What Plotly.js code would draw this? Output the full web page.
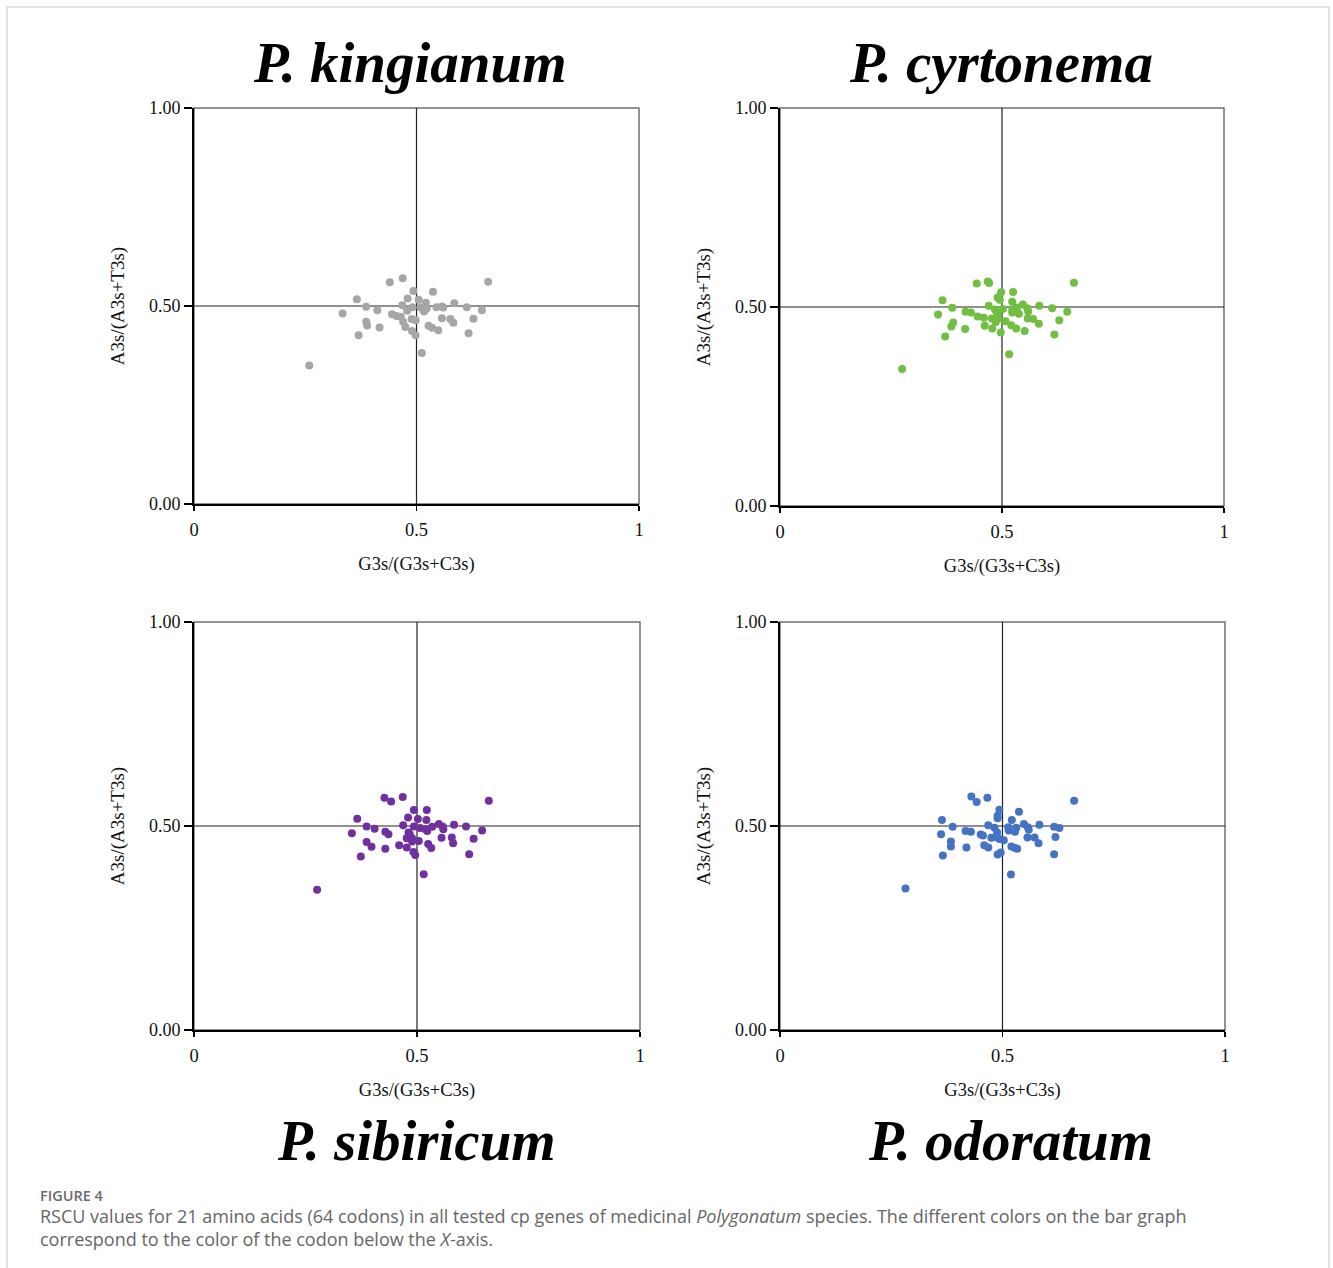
<!DOCTYPE html>
<html>
<head>
<meta charset="utf-8">
<script src="https://cdn.plot.ly/plotly-3.0.1.min.js"></script>
<style>
  html, body { margin: 0; padding: 0; background: #fff; }
  #chart { width: 1333px; height: 1268px; }
</style>
</head>
<body>
<div id="chart"></div>
<script>
// ---- Data: GC3 skew coordinates per species ----
const speciesNames = ["P. kingianum", "P. cyrtonema", "P. sibiricum", "P. odoratum"];

const kingianumX = [0.440,0.469,0.661,0.493,0.537,0.366,0.480,0.505,0.521,0.585,0.387,0.468,0.491,0.509,0.523,0.545,0.557,0.560,0.613,0.412,0.479,0.517,0.647,0.334,0.445,0.455,0.465,0.557,0.576,0.628,0.387,0.470,0.489,0.498,0.583,0.389,0.417,0.475,0.527,0.535,0.549,0.490,0.498,0.370,0.617,0.512,0.259];
const kingianumY = [0.560,0.570,0.561,0.538,0.536,0.517,0.519,0.516,0.508,0.507,0.498,0.502,0.497,0.496,0.494,0.497,0.499,0.496,0.497,0.489,0.488,0.486,0.489,0.481,0.479,0.475,0.473,0.469,0.467,0.468,0.460,0.460,0.467,0.464,0.458,0.451,0.446,0.447,0.450,0.445,0.439,0.437,0.426,0.426,0.431,0.381,0.350];

const cyrtonemaX = [0.443,0.468,0.471,0.662,0.498,0.525,0.490,0.495,0.366,0.523,0.470,0.388,0.484,0.502,0.523,0.534,0.547,0.557,0.584,0.613,0.418,0.430,0.489,0.523,0.538,0.559,0.647,0.356,0.445,0.459,0.477,0.491,0.558,0.570,0.629,0.390,0.486,0.508,0.583,0.386,0.461,0.521,0.532,0.417,0.478,0.551,0.497,0.372,0.618,0.516,0.275];
const cyrtonemaY = [0.559,0.564,0.560,0.561,0.537,0.538,0.524,0.518,0.517,0.513,0.503,0.498,0.494,0.495,0.494,0.499,0.506,0.497,0.503,0.497,0.488,0.486,0.484,0.486,0.483,0.489,0.488,0.481,0.476,0.473,0.471,0.471,0.471,0.470,0.467,0.461,0.462,0.464,0.458,0.451,0.453,0.454,0.446,0.445,0.446,0.440,0.436,0.426,0.431,0.381,0.344];

const sibiricumX = [0.427,0.442,0.468,0.661,0.493,0.522,0.366,0.480,0.502,0.521,0.387,0.405,0.469,0.493,0.507,0.519,0.523,0.534,0.549,0.558,0.559,0.583,0.610,0.646,0.354,0.429,0.436,0.481,0.484,0.477,0.489,0.555,0.578,0.627,0.387,0.489,0.504,0.581,0.398,0.460,0.525,0.532,0.429,0.477,0.492,0.496,0.374,0.617,0.515,0.276];
const sibiricumY = [0.569,0.560,0.571,0.562,0.539,0.539,0.518,0.521,0.517,0.515,0.499,0.493,0.502,0.499,0.495,0.492,0.488,0.498,0.505,0.498,0.492,0.503,0.499,0.489,0.482,0.486,0.480,0.484,0.479,0.470,0.470,0.471,0.472,0.469,0.461,0.462,0.463,0.458,0.449,0.453,0.456,0.446,0.444,0.447,0.436,0.429,0.425,0.431,0.382,0.344];

const odoratumX = [0.430,0.442,0.466,0.661,0.493,0.537,0.489,0.489,0.364,0.521,0.388,0.468,0.482,0.513,0.531,0.548,0.557,0.559,0.583,0.616,0.628,0.417,0.429,0.488,0.514,0.528,0.362,0.451,0.456,0.475,0.486,0.493,0.503,0.556,0.572,0.619,0.384,0.581,0.384,0.419,0.459,0.468,0.520,0.528,0.533,0.366,0.489,0.496,0.616,0.519,0.282];
const odoratumY = [0.572,0.559,0.569,0.562,0.540,0.535,0.525,0.519,0.515,0.515,0.498,0.502,0.496,0.497,0.496,0.505,0.497,0.491,0.503,0.498,0.495,0.488,0.486,0.484,0.489,0.486,0.480,0.479,0.477,0.471,0.473,0.468,0.465,0.472,0.472,0.473,0.462,0.458,0.450,0.447,0.453,0.447,0.450,0.446,0.444,0.428,0.430,0.435,0.431,0.381,0.347];

const seriesX = [kingianumX, cyrtonemaX, sibiricumX, odoratumX];
const seriesY = [kingianumY, cyrtonemaY, sibiricumY, odoratumY];
const seriesColors = ["#a6a6a6", "#70bf41", "#7030a0", "#4472c4"];

const xTickVals = [0, 0.5, 1];
const xTickText = ["0", "0.5", "1"];
const yTickVals = [0, 0.5, 1];
const yTickText = ["0.00", "0.50", "1.00"];
const xTitle = "G3s/(G3s+C3s)";
const yTitle = "A3s/(A3s+T3s)";

// ---- Layout geometry ----
const W = 1333, H = 1268;
const px = v => v / W;
const py = v => 1 - v / H;
const boxes = [
  {x0:194, x1:639, y0:108, y1:504},
  {x0:780, x1:1224, y0:108, y1:506},
  {x0:194, x1:640, y0:622, y1:1030},
  {x0:780, x1:1225, y0:622, y1:1030}
];
const titlePos = [
  {x:410, y:62}, {x:1001, y:62}, {x:416, y:1140}, {x:1010, y:1140}
];

const serif = "Liberation Serif, Times New Roman, serif";
const traces = [];
const layout = {
  width: W, height: H,
  margin: {l:0, r:0, t:0, b:0},
  paper_bgcolor: "#ffffff",
  plot_bgcolor: "rgba(0,0,0,0)",
  showlegend: false,
  shapes: [],
  annotations: []
};

for (let i = 0; i < 4; i++) {
  const n = i === 0 ? "" : String(i + 1);
  const xa = "x" + n, ya = "y" + n;
  traces.push({
    type: "scatter", mode: "markers",
    x: seriesX[i], y: seriesY[i],
    xaxis: xa, yaxis: ya,
    name: speciesNames[i],
    marker: {color: seriesColors[i], size: 8, line: {width: 0}},
    hoverinfo: "x+y"
  });
  const b = boxes[i];
  layout["xaxis" + n] = {
    domain: [px(b.x0), px(b.x1)],
    anchor: ya,
    range: [0, 1],
    tickvals: xTickVals, ticktext: xTickText,
    ticks: "outside", ticklen: 5, tickwidth: 1.5, tickcolor: "#000",
    ticklabelstandoff: 3,
    showgrid: false, zeroline: false,
    showline: true, linecolor: "#000", linewidth: 2,
    tickfont: {family: serif, size: 18.5, color: "#111"},
    title: {text: xTitle, font: {family: serif, size: 18.5, color: "#111"}, standoff: 18},
    fixedrange: true
  };
  layout["yaxis" + n] = {
    domain: [py(b.y1), py(b.y0)],
    anchor: xa,
    range: [0, 1],
    tickvals: yTickVals, ticktext: yTickText,
    ticks: "outside", ticklen: 8, tickwidth: 1.5, tickcolor: "#000",
    showgrid: false, zeroline: false,
    showline: true, linecolor: "#000", linewidth: 2,
    tickfont: {family: serif, size: 18, color: "#111"},
    title: {text: yTitle, font: {family: serif, size: 19, color: "#111"}, standoff: 19},
    fixedrange: true
  };
  // top/right frame in grey
  layout.shapes.push({
    type: "rect", xref: xa + " domain", yref: ya + " domain",
    x0: 0, x1: 1, y0: 0, y1: 1,
    line: {color: "#707070", width: 1.5}, layer: "below"
  });
  // quadrant reference lines
  layout.shapes.push({
    type: "line", xref: xa, yref: ya + " domain",
    x0: 0.5, x1: 0.5, y0: 0, y1: 1,
    line: {color: "#222", width: 1.2}, layer: "below"
  });
  layout.shapes.push({
    type: "line", xref: xa + " domain", yref: ya,
    x0: 0, x1: 1, y0: 0.5, y1: 0.5,
    line: {color: "#222", width: 1.2}, layer: "below"
  });
  layout.annotations.push({
    text: "<b><i>" + speciesNames[i] + "</i></b>",
    xref: "paper", yref: "paper",
    x: px(titlePos[i].x), y: py(titlePos[i].y),
    xanchor: "center", yanchor: "middle", showarrow: false,
    font: {family: serif, size: 57, color: "#000"}
  });
}

// outer light frame
layout.shapes.push({
  type: "rect", xref: "paper", yref: "paper",
  x0: px(7), x1: px(1329), y0: py(1275), y1: py(7),
  line: {color: "#d9d9d9", width: 1.5}, layer: "below"
});

const capFont = "Open Sans, Noto Sans, sans-serif";
layout.annotations.push({
  text: "FIGURE 4",
  xref: "paper", yref: "paper", x: px(38), y: py(1195),
  xanchor: "left", yanchor: "middle", showarrow: false,
  font: {family: capFont, size: 14.5, color: "#6b6b6b", weight: 600}
});
layout.annotations.push({
  text: "RSCU values for 21 amino acids (64 codons) in all tested cp genes of medicinal <i>Polygonatum</i> species. The different colors on the bar graph<br>correspond to the color of the codon below the <i>X</i>-axis.",
  xref: "paper", yref: "paper", x: px(38), y: py(1227),
  xanchor: "left", yanchor: "middle", align: "left", showarrow: false,
  font: {family: capFont, size: 18, color: "#666666"}
});

Plotly.newPlot("chart", traces, layout, {displayModeBar: false, staticPlot: true});
</script>
</body>
</html>
